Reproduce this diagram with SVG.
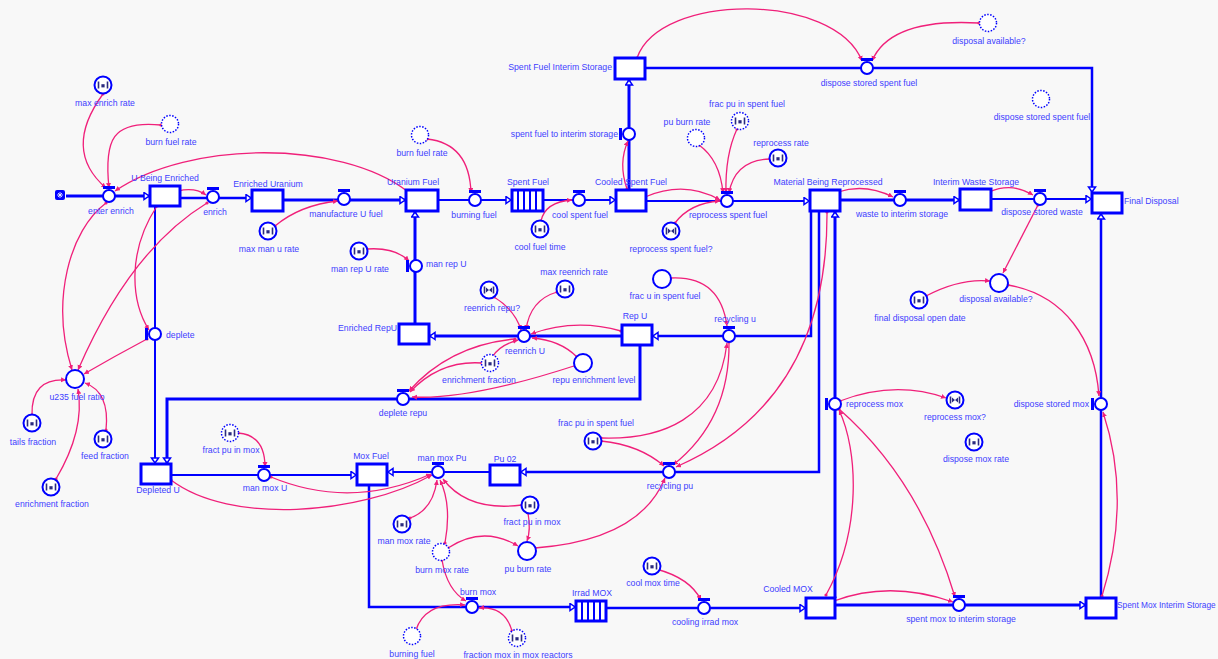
<svg xmlns="http://www.w3.org/2000/svg" width="1218" height="659" viewBox="0 0 1218 659">
<style>
text{font-family:"Liberation Sans",Arial,sans-serif;font-size:8.7px;fill:#4040ff}
.c{text-anchor:middle}.e{text-anchor:end}
.st{fill:#fff;stroke:#00f;stroke-width:3}
.vc{fill:#fff;stroke:#00f;stroke-width:2}
.aux{fill:#fff;stroke:#00f;stroke-width:2}
.gh{fill:#fff;stroke:#00f;stroke-width:1.5;stroke-dasharray:1.5 1.5}
.p{fill:none;stroke:#00f;stroke-width:3;marker-end:url(#pa)}
.p2{stroke-width:2}.p25{stroke-width:2.5}
.lk{fill:none;stroke:#f0207a;stroke-width:1.3;marker-start:url(#dt);marker-end:url(#ah)}
.ico{stroke:#2b2b80;stroke-width:1.6;fill:none}
.icf{fill:#2b2b80}
.cv{stroke:#00f;stroke-width:2}
</style>
<defs>
<marker id="ah" markerWidth="6" markerHeight="6" refX="5" refY="2.5" orient="auto" markerUnits="userSpaceOnUse"><path d="M0,0L5,2.5L0,5z" fill="#f0207a"/></marker>
<marker id="dt" markerWidth="4" markerHeight="4" refX="2" refY="2" markerUnits="userSpaceOnUse"><circle cx="2" cy="2" r="1.6" fill="#f0207a"/></marker>
<marker id="pa" markerWidth="8" markerHeight="10" refX="6" refY="4.5" orient="auto" markerUnits="userSpaceOnUse"><path d="M1,1L6,4.5L1,8z" fill="#fff" stroke="#00f" stroke-width="1.5"/></marker>
<g id="vh"><rect x="-6" y="-10" width="12" height="3" fill="#00f"/><circle r="6" class="vc"/></g>
<g id="vv"><rect x="-10" y="-6" width="3" height="12" fill="#00f"/><circle r="6" class="vc"/></g>
<g id="ic"><path class="ico" d="M-4.5,-3.5v7M4.5,-3.5v7"/><rect class="icf" x="-1.6" y="-0.8" width="3.2" height="3.2"/></g>
<g id="bt"><path class="ico" d="M-4.5,-3.5v7M4.5,-3.5v7"/><path class="icf" d="M-3,-2.5L0,0L-3,2.5zM3,-2.5L0,0L3,2.5z"/></g>
</defs>
<rect width="1218" height="659" fill="#f8f8f8"/>

<g id="connectors">
<path class="p" d="M66,196H149"/>
<path class="p p25" d="M180,198H251"/>
<path class="p" d="M283,200H405"/>
<path class="p p2" d="M438,200H511"/>
<path class="p p2" d="M543,200H615"/>
<path class="p p2" d="M646,201H809"/>
<path class="p" d="M629,190V80"/>
<path class="p p25" d="M645,68H1092V192"/>
<path class="p" d="M840,200H959"/>
<path class="p p2" d="M991,199H1091"/>
<path class="p" d="M622,336H430"/>
<path class="p" d="M415,324V212"/>
<path class="p p25" d="M811,211V336H653"/>
<path class="p p25" d="M819,211V472H521"/>
<path class="p" d="M835,598V212"/>
<path class="p p2" d="M155,206V463"/>
<path class="p" d="M640,345V399H167V463"/>
<path class="p p2" d="M171,475H356"/>
<path class="p p2" d="M490,472H388"/>
<path class="p p25" d="M369,485V607H575"/>
<path class="p p25" d="M606,608H805"/>
<path class="p" d="M835,605H1085"/>
<path class="p p25" d="M1101,598V214"/>

<path class="lk" d="M103,94Q62,150 106,188"/>
<path class="lk" d="M161,125C112,120 104,140 109,188"/>
<path class="lk" d="M407,191C340,140 190,140 115,191"/>
<path class="lk" d="M178,191Q195,187 206,195"/>
<path class="lk" d="M157,206C128,250 130,300 149,330"/>
<path class="lk" d="M207,203Q130,250 78,370"/>
<path class="lk" d="M106,203C70,230 50,300 72,370"/>
<path class="lk" d="M147,339Q115,356 84,374"/>
<path class="lk" d="M32,415Q31,378 66,380"/>
<path class="lk" d="M106,430Q110,392 85,383"/>
<path class="lk" d="M56,479Q85,430 78,389"/>
<path class="lk" d="M275,226Q300,205 338,201"/>
<path class="lk" d="M367,249Q395,247 409,261"/>
<path class="lk" d="M427,139C455,142 470,160 471,193"/>
<path class="lk" d="M541,221Q545,202 572,200"/>
<path class="lk" d="M627,189Q618,163 628,141"/>
<path class="lk" d="M645,197Q685,180 720,200"/>
<path class="lk" d="M675,223Q690,203 720,201"/>
<path class="lk" d="M699,145Q720,160 723,193"/>
<path class="lk" d="M737,129Q725,155 726,193"/>
<path class="lk" d="M770,159Q735,160 729,193"/>
<path class="lk" d="M637,58C660,-8 835,-8 862,61"/>
<path class="lk" d="M979,23Q890,18 872,61"/>
<path class="lk" d="M838,192Q865,183 893,197"/>
<path class="lk" d="M989,192Q1012,182 1033,195"/>
<path class="lk" d="M1038,205L1003,273"/>
<path class="lk" d="M926,296Q960,278 990,281"/>
<path class="lk" d="M1008,285C1065,295 1095,340 1099,396"/>
<path class="lk" d="M1102,596Q1132,500 1103,412"/>
<path class="lk" d="M840,401Q895,380 946,398"/>
<path class="lk" d="M826,595C862,530 858,450 839,410"/>
<path class="lk" d="M839,409Q920,480 955,597"/>
<path class="lk" d="M834,601Q890,580 953,602"/>
<path class="lk" d="M656,569Q690,578 701,600"/>
<path class="lk" d="M827,212Q828,401 676,467"/>
<path class="lk" d="M729,342Q730,420 673,465"/>
<path class="lk" d="M601,438C660,440 718,420 727,343"/>
<path class="lk" d="M601,441Q640,445 664,466"/>
<path class="lk" d="M670,278Q720,275 727,326"/>
<path class="lk" d="M535,548Q640,540 665,478"/>
<path class="lk" d="M528,513Q531,530 527,541"/>
<path class="lk" d="M448,548Q483,525 518,546"/>
<path class="lk" d="M522,505Q468,512 443,479"/>
<path class="lk" d="M410,518Q433,510 437,480"/>
<path class="lk" d="M445,543Q452,505 440,480"/>
<path class="lk" d="M442,560Q447,590 466,601"/>
<path class="lk" d="M416,630Q425,602 465,605"/>
<path class="lk" d="M512,631Q505,606 479,608"/>
<path class="lk" d="M171,480C230,525 360,515 432,475"/>
<path class="lk" d="M271,477Q350,510 431,474"/>
<path class="lk" d="M238,433Q265,435 265,467"/>
<path class="lk" d="M494,297Q515,310 521,330"/>
<path class="lk" d="M557,292Q530,300 526,330"/>
<path class="lk" d="M621,331Q575,318 531,334"/>
<path class="lk" d="M493,356Q500,345 518,340"/>
<path class="lk" d="M577,357Q560,340 532,338"/>
<path class="lk" d="M515,339Q450,345 409,391"/>
<path class="lk" d="M482,363Q440,360 410,392"/>
<path class="lk" d="M577,365Q470,400 412,397"/>
</g>

<g id="source"><rect x="55" y="190" width="10" height="10" rx="2" fill="#00f"/><path d="M57,195h6M60,192v6M58,193l4,4M62,193l-4,4" stroke="#fff" stroke-width="0.8"/></g>

<g id="u-being-enriched"><rect class="st" x="150" y="186" width="30" height="20"/><text x="165" y="181" class="c">U Being Enriched</text></g>
<g id="enriched-uranium"><rect class="st" x="252" y="190" width="31" height="21"/><text x="268" y="187" class="c">Enriched Uranium</text></g>
<g id="uranium-fuel"><rect class="st" x="406" y="190" width="32" height="21"/><text x="413" y="185" class="c">Uranium Fuel</text></g>
<g id="spent-fuel"><rect class="st" x="512" y="190" width="31" height="21"/><path class="cv" d="M518,190v21M524,190v21M530,190v21M536,190v21"/><text x="528" y="185" class="c">Spent Fuel</text></g>
<g id="cooled-spent-fuel"><rect class="st" x="616" y="190" width="30" height="21"/><text x="631" y="185" class="c">Cooled Spent Fuel</text></g>
<g id="spent-fuel-interim-storage"><rect class="st" x="615" y="58" width="30" height="21"/><text x="612" y="70" class="e">Spent Fuel Interim Storage</text></g>
<g id="material-being-reprocessed"><rect class="st" x="810" y="190" width="30" height="21"/><text x="828" y="185" class="c">Material Being Reprocessed</text></g>
<g id="interim-waste-storage"><rect class="st" x="960" y="189" width="31" height="21"/><text x="976" y="185" class="c">Interim Waste Storage</text></g>
<g id="final-disposal"><rect class="st" x="1092" y="193" width="30" height="20"/><text x="1124" y="204">Final Disposal</text></g>
<g id="enriched-repu"><rect class="st" x="399" y="324" width="30" height="20"/><text x="397" y="331" class="e">Enriched RepU</text></g>
<g id="rep-u"><rect class="st" x="622" y="325" width="30" height="20"/><text x="635" y="319" class="c">Rep U</text></g>
<g id="depleted-u"><rect class="st" x="141" y="464" width="30" height="20"/><text x="158" y="493" class="c">Depleted U</text></g>
<g id="mox-fuel"><rect class="st" x="357" y="464" width="30" height="21"/><text x="371" y="459" class="c">Mox Fuel</text></g>
<g id="pu-02"><rect class="st" x="490" y="465" width="30" height="20"/><text x="505" y="462" class="c">Pu 02</text></g>
<g id="irrad-mox"><rect class="st" x="576" y="601" width="30" height="20"/><path class="cv" d="M582,601v20M588,601v20M594,601v20M600,601v20"/><text x="592" y="596" class="c">Irrad MOX</text></g>
<g id="cooled-mox"><rect class="st" x="806" y="598" width="29" height="20"/><text x="788" y="592" class="c">Cooled MOX</text></g>
<g id="spent-mox-interim-storage"><rect class="st" x="1086" y="598" width="30" height="20"/><text x="1117" y="608" style="font-size:8.3px">Spent Mox Interim Storage</text></g>

<g id="enter-enrich"><use href="#vh" x="109" y="196"/><text x="111" y="214" class="c">enter enrich</text></g>
<g id="enrich"><use href="#vh" x="213" y="197"/><text x="215" y="215" class="c">enrich</text></g>
<g id="manufacture-u-fuel"><use href="#vh" x="344" y="199"/><text x="346" y="217" class="c">manufacture U fuel</text></g>
<g id="burning-fuel-flow"><use href="#vh" x="475" y="200"/><text x="474" y="218" class="c">burning fuel</text></g>
<g id="cool-spent-fuel"><use href="#vh" x="579" y="200"/><text x="580" y="218" class="c">cool spent fuel</text></g>
<g id="reprocess-spent-fuel"><use href="#vh" x="727" y="201"/><text x="728" y="218" class="c">reprocess spent fuel</text></g>
<g id="spent-fuel-to-interim-storage"><use href="#vv" x="629" y="134"/><text x="618" y="137" class="e">spent fuel to interim storage</text></g>
<g id="dispose-stored-spent-fuel"><use href="#vh" x="867" y="68"/><text x="869" y="86" class="c">dispose stored spent fuel</text></g>
<g id="waste-to-interim-storage"><use href="#vh" x="900" y="200"/><text x="902" y="217" class="c">waste to interim storage</text></g>
<g id="dispose-stored-waste"><use href="#vh" x="1040" y="199"/><text x="1042" y="215" class="c">dispose stored waste</text></g>
<g id="man-rep-u"><use href="#vv" x="416" y="266"/><text x="426" y="267">man rep U</text></g>
<g id="deplete"><use href="#vv" x="155" y="334"/><text x="166" y="338">deplete</text></g>
<g id="reenrich-u"><use href="#vh" x="524" y="336"/><text x="525" y="354" class="c">reenrich U</text></g>
<g id="recycling-u"><use href="#vh" x="729" y="336"/><text x="735" y="322" class="c">recycling u</text></g>
<g id="deplete-repu"><use href="#vh" x="403" y="399"/><text x="403" y="416" class="c">deplete repu</text></g>
<g id="recycling-pu"><use href="#vh" x="669" y="472"/><text x="670" y="489" class="c">recycling pu</text></g>
<g id="man-mox-pu"><use href="#vh" x="438" y="472"/><text x="442" y="461" class="c">man mox Pu</text></g>
<g id="man-mox-u"><use href="#vh" x="264" y="475"/><text x="265" y="491" class="c">man mox U</text></g>
<g id="burn-mox"><use href="#vh" x="472" y="607"/><text x="478" y="595" class="c">burn mox</text></g>
<g id="cooling-irrad-mox"><use href="#vh" x="704" y="608"/><text x="705" y="625" class="c">cooling irrad mox</text></g>
<g id="spent-mox-to-interim-storage"><use href="#vh" x="959" y="605"/><text x="961" y="622" class="c">spent mox to interim storage</text></g>
<g id="dispose-stored-mox"><use href="#vv" x="1101" y="404"/><text x="1089" y="407" class="e">dispose stored mox</text></g>
<g id="reprocess-mox"><use href="#vv" x="835" y="404"/><text x="846" y="407">reprocess mox</text></g>

<g id="max-enrich-rate"><circle class="aux" cx="103" cy="85" r="8.5"/><use href="#ic" x="103" y="85"/><text x="105" y="106" class="c">max enrich rate</text></g>
<g id="burn-fuel-rate-1"><circle class="gh" cx="170" cy="124" r="8.5"/><text x="171" y="145" class="c">burn fuel rate</text></g>
<g id="burn-fuel-rate-2"><circle class="gh" cx="420" cy="135" r="8.5"/><text x="422" y="156" class="c">burn fuel rate</text></g>
<g id="max-man-u-rate"><circle class="aux" cx="268" cy="231" r="8.5"/><use href="#ic" x="268" y="231"/><text x="269" y="252" class="c">max man u rate</text></g>
<g id="man-rep-u-rate"><circle class="aux" cx="359" cy="251" r="8.5"/><use href="#ic" x="359" y="251"/><text x="360" y="272" class="c">man rep U rate</text></g>
<g id="cool-fuel-time"><circle class="aux" cx="540" cy="229" r="8.5"/><use href="#ic" x="540" y="229"/><text x="540" y="250" class="c">cool fuel time</text></g>
<g id="reprocess-spent-fuel-q"><circle class="aux" cx="671" cy="231" r="8.5"/><use href="#bt" x="671" y="231"/><text x="671" y="252" class="c">reprocess spent fuel?</text></g>
<g id="pu-burn-rate-1"><circle class="gh" cx="696" cy="138" r="8.5"/><text x="687" y="125" class="c">pu burn rate</text></g>
<g id="frac-pu-in-spent-fuel-1"><circle class="gh" cx="740" cy="121" r="8.5"/><use href="#ic" x="740" y="121"/><text x="747" y="107" class="c">frac pu in spent fuel</text></g>
<g id="reprocess-rate"><circle class="aux" cx="778" cy="158" r="8.5"/><use href="#ic" x="778" y="158"/><text x="781" y="146" class="c">reprocess rate</text></g>
<g id="disposal-available-1"><circle class="gh" cx="988" cy="23" r="8.5"/><text x="989" y="44" class="c">disposal available?</text></g>
<g id="dispose-stored-spent-fuel-aux"><circle class="gh" cx="1041" cy="99" r="8.5"/><text x="1042" y="120" class="c">dispose stored spent fuel</text></g>
<g id="disposal-available-2"><circle class="aux" cx="999" cy="283" r="9"/><text x="996" y="302" class="c">disposal available?</text></g>
<g id="final-disposal-open-date"><circle class="aux" cx="919" cy="300" r="8.5"/><use href="#ic" x="919" y="300"/><text x="920" y="321" class="c">final disposal open date</text></g>
<g id="reprocess-mox-q"><circle class="aux" cx="955" cy="400" r="8.5"/><use href="#bt" x="955" y="400"/><text x="955" y="420" class="c">reprocess mox?</text></g>
<g id="dispose-mox-rate"><circle class="aux" cx="974" cy="442" r="8.5"/><use href="#ic" x="974" y="442"/><text x="976" y="462" class="c">dispose mox rate</text></g>
<g id="reenrich-repu-q"><circle class="aux" cx="489" cy="290" r="8.5"/><use href="#bt" x="489" y="290"/><text x="492" y="311" class="c">reenrich repu?</text></g>
<g id="max-reenrich-rate"><circle class="aux" cx="565" cy="289" r="8.5"/><use href="#ic" x="565" y="289"/><text x="574" y="275" class="c">max reenrich rate</text></g>
<g id="frac-u-in-spent-fuel"><circle class="aux" cx="662" cy="279" r="9"/><text x="665" y="299" class="c">frac u in spent fuel</text></g>
<g id="enrichment-fraction-2"><circle class="gh" cx="490" cy="363" r="8.5"/><use href="#ic" x="490" y="363"/><text x="479" y="383" class="c">enrichment fraction</text></g>
<g id="repu-enrichment-level"><circle class="aux" cx="583" cy="363" r="9"/><text x="594" y="383" class="c">repu enrichment level</text></g>
<g id="frac-pu-in-spent-fuel-2"><circle class="aux" cx="593" cy="441" r="8.5"/><use href="#ic" x="593" y="441"/><text x="596" y="426" class="c">frac pu in spent fuel</text></g>
<g id="u235-fuel-ratio"><circle class="aux" cx="75" cy="379" r="9"/><text x="77" y="400" class="c">u235 fuel ratio</text></g>
<g id="tails-fraction"><circle class="aux" cx="32" cy="423" r="8.5"/><use href="#ic" x="32" y="423"/><text x="33" y="445" class="c">tails fraction</text></g>
<g id="feed-fraction"><circle class="aux" cx="103" cy="439" r="8.5"/><use href="#ic" x="103" y="439"/><text x="105" y="459" class="c">feed fraction</text></g>
<g id="enrichment-fraction-1"><circle class="aux" cx="51" cy="487" r="8.5"/><use href="#ic" x="51" y="487"/><text x="52" y="507" class="c">enrichment fraction</text></g>
<g id="fract-pu-in-mox-1"><circle class="gh" cx="230" cy="433" r="8.5"/><use href="#ic" x="230" y="433"/><text x="231" y="453" class="c">fract pu in mox</text></g>
<g id="man-mox-rate"><circle class="aux" cx="402" cy="524" r="8.5"/><use href="#ic" x="402" y="524"/><text x="404" y="544" class="c">man mox rate</text></g>
<g id="fract-pu-in-mox-2"><circle class="aux" cx="530" cy="505" r="8.5"/><use href="#ic" x="530" y="505"/><text x="532" y="525" class="c">fract pu in mox</text></g>
<g id="burn-mox-rate"><circle class="gh" cx="441" cy="552" r="8.5"/><text x="442" y="573" class="c">burn mox rate</text></g>
<g id="pu-burn-rate-2"><circle class="aux" cx="527" cy="551" r="9"/><text x="528" y="572" class="c">pu burn rate</text></g>
<g id="cool-mox-time"><circle class="aux" cx="652" cy="566" r="8.5"/><use href="#ic" x="652" y="566"/><text x="653" y="586" class="c">cool mox time</text></g>
<g id="burning-fuel-aux"><circle class="gh" cx="412" cy="636" r="8.5"/><text x="412" y="657" class="c">burning fuel</text></g>
<g id="fraction-mox-in-mox-reactors"><circle class="gh" cx="517" cy="638" r="8.5"/><use href="#ic" x="517" y="638"/><text x="518" y="658" class="c">fraction mox in mox reactors</text></g>
</svg>
